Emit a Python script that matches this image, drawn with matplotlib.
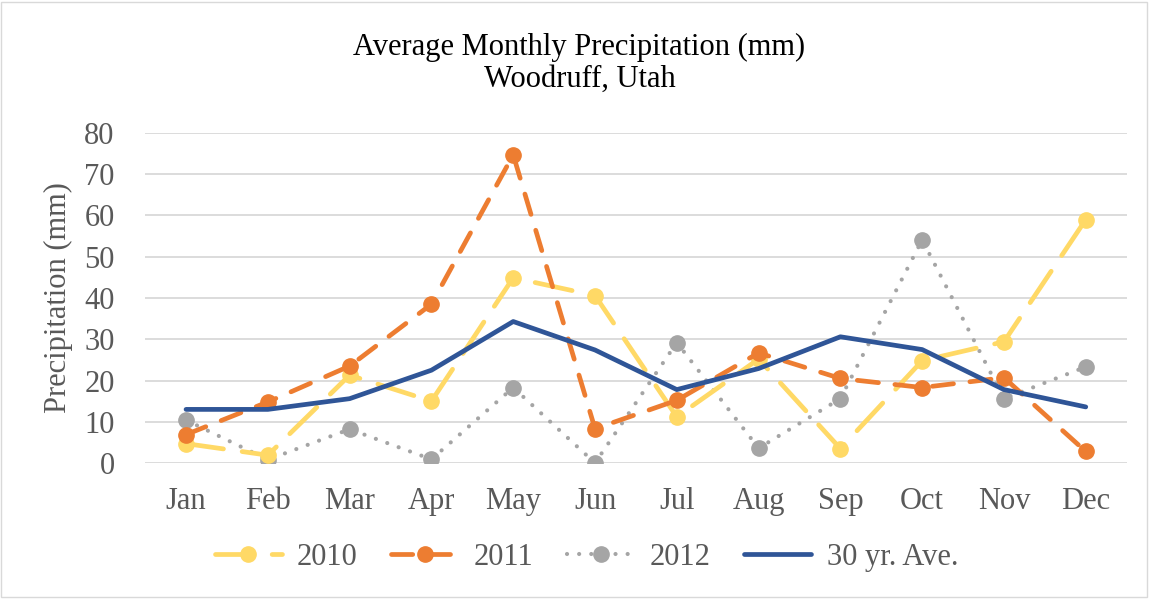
#!/usr/bin/env python3
"""Average monthly precipitation, Woodruff UT -> out.png"""
import matplotlib
matplotlib.use("Agg")
import matplotlib.pyplot as plt
from matplotlib.patches import Rectangle

MONTHS = ["Jan", "Feb", "Mar", "Apr", "May", "Jun", "Jul", "Aug", "Sep", "Oct", "Nov", "Dec"]
P2010 = [4.7, 1.9, 21.3, 15.0, 44.9, 40.6, 11.2, 25.2, 3.5, 24.8, 29.4, 59.0]
P2011 = [6.9, 14.8, 23.5, 38.5, 74.7, 8.3, 15.2, 26.7, 20.5, 18.3, 20.7, 2.8]
P2012 = [10.4, 0.8, 8.2, 0.9, 18.3, 0.0, 29.2, 3.6, 15.6, 54.1, 15.6, 23.3]
AVE30 = [13.0, 13.0, 15.6, 22.5, 34.3, 27.4, 17.8, 22.9, 30.6, 27.5, 17.8, 13.6]

YELLOW, ORANGE, GREY, NAVY = "#ffd966", "#ed7d31", "#a5a5a5", "#2f5597"
TEXT, GRID = "#595959", "#d9d9d9"
FS = 22
plt.rcParams.update({"font.family": ["Liberation Serif", "DejaVu Serif"], "text.color": TEXT,
                     "xtick.color": TEXT, "ytick.color": TEXT})

fig = plt.figure(figsize=(11.52, 5.99), dpi=100)
ax = fig.add_axes([0.126, 0.227, 0.852, 0.551])
x = range(len(MONTHS))

ax.plot(x, P2010, color=YELLOW, lw=3.4, dashes=(8, 4), dash_capstyle="round",
        marker="o", ms=11, label="2010", zorder=3)
ax.plot(x, P2011, color=ORANGE, lw=3.4, dashes=(4.5, 3.5), dash_capstyle="round",
        marker="o", ms=11, label="2011", zorder=4)
ax.plot(x, P2012, color=GREY, lw=3.0, dashes=(0.01, 2.9), dash_capstyle="round",
        marker="o", ms=11, label="2012", zorder=2)
ax.plot(x, AVE30, color=NAVY, lw=3.4, solid_capstyle="round", label="30 yr. Ave.", zorder=5)

ax.set_xlim(-0.5, len(MONTHS) - 0.5)
ax.set_ylim(0, 80)
ax.set_yticks(range(0, 81, 10))
ax.set_xticks(list(x))
ax.set_xticklabels(MONTHS)
ax.tick_params(length=0, labelsize=FS)
ax.tick_params(axis="y", pad=22)
ax.tick_params(axis="x", pad=17)
for s in ax.spines.values():
    s.set_visible(False)
ax.yaxis.grid(True, color=GRID, lw=1.3, zorder=0)
ax.set_axisbelow(True)
ax.set_ylabel("Precipitation (mm)", fontsize=FS, color=TEXT, labelpad=8)

fig.text(0.503, 0.894, "Average Monthly Precipitation (mm)\nWoodruff, Utah", ha="center", va="center",
         fontsize=FS, color="#000000", linespacing=1.15)
fig.legend(loc="center", bbox_to_anchor=(0.509, 0.070), ncol=4, frameon=False, fontsize=FS,
           handlelength=2.2, handletextpad=0.5, columnspacing=1.1)
fig.patches.append(Rectangle((0.001, 0.004), 0.995, 0.993, transform=fig.transFigure, fill=False,
                             edgecolor=GRID, lw=1))
fig.savefig("out.png")
